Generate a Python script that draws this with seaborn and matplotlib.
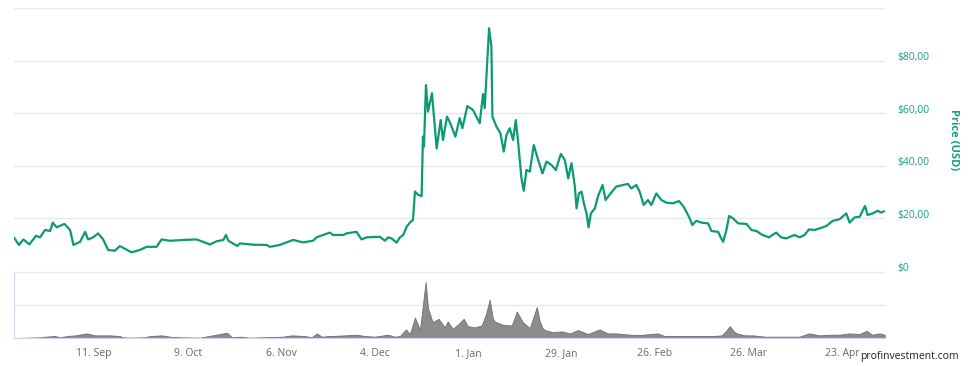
import numpy as np
import pandas as pd
import matplotlib
matplotlib.use("Agg")
import matplotlib.pyplot as plt
import matplotlib.transforms as mtransforms
import seaborn as sns

# 価格データ（開始日からの経過日数, USD）
start = pd.Timestamp("2017-08-18")
price_days = [0, 1.5, 2.8, 4.6, 6.6, 7.8, 9.3, 10.8, 11.6, 12.8, 15.1, 16.8, 17.8, 19.8, 21.3, 22.2,
              23.7, 25.2, 26.7, 28.2, 30.2, 31.7, 35.2, 37.7, 39.7, 42.7, 44.2, 46.7, 50.7, 54.7,
              58.7, 60.7, 62.7, 63.5, 64.2, 66.9, 67.7, 71.6, 75.7, 76.6, 79.6, 83.6, 86.6, 89.6,
              90.6, 94.6, 95.6, 98.6, 99.6, 102.6, 104.1, 105.6, 109.6, 111.1, 112.1, 113.1, 114.6,
              115.6, 116.6, 117.6, 118.8, 119.5, 120.1, 121.1, 122.1, 122.5, 122.8, 123.4, 124.0,
              125.2, 126.6, 127.8, 128.5, 129.7, 130.7, 132.2, 133.5, 134.3, 135.8, 137.5, 139.5,
              140.5, 141.0, 142.3, 143.0, 143.3, 144.5, 145.7, 146.7, 147.5, 148.5, 149.5, 150.3,
              151.0, 152.0, 152.7, 153.5, 154.5, 155.7, 157.0, 158.3, 159.5, 161.0, 162.3, 163.8,
              165.0, 166.0, 167.0, 168.0, 168.5, 169.2, 170.0, 170.7, 171.5, 172.1, 172.8, 174.0,
              174.9, 176.3, 177.2, 178.9, 180.4, 182.4, 183.9, 184.9, 186.4, 187.4, 188.6, 189.9,
              190.9, 192.4, 193.9, 195.4, 197.4, 199.2, 200.6, 202.2, 203.2, 204.4, 205.9, 207.9,
              208.9, 210.9, 211.6, 212.4, 213.4, 214.2, 215.4, 216.9, 219.4, 220.9, 222.4, 223.9,
              226.1, 228.3, 229.8, 231.3, 233.8, 235.3, 236.8, 238.1, 239.8, 241.3, 243.3, 245.3,
              247.3, 249.3, 250.3, 251.8, 253.3, 254.9, 255.7, 257.2, 258.7, 259.7, 260.6]
price = [12.7, 9.9, 12.0, 10.1, 13.4, 12.8, 15.6, 15.2, 18.4, 16.6, 17.9, 15.6, 9.9, 11.1, 14.9, 12.0,
         12.8, 14.3, 12.0, 8.0, 7.7, 9.5, 7.1, 8.0, 9.2, 9.2, 12.0, 11.5, 11.8, 12.0,
         10.1, 11.3, 11.8, 13.7, 11.5, 9.5, 10.5, 10.0, 9.9, 9.2, 9.9, 11.8, 10.9, 11.5,
         12.8, 14.6, 13.7, 13.7, 14.3, 14.9, 12.0, 12.8, 13.0, 11.5, 12.8, 12.4, 10.8,
         12.8, 13.7, 16.8, 18.7, 19.4, 30.2, 28.9, 28.5, 51.1, 47.3, 70.7, 60.6,
         67.6, 46.6, 57.4, 49.8, 58.7, 56.2, 51.1, 58.1, 54.3, 62.7, 61.2, 56.2,
         67.3, 61.9, 92.3, 85.3, 58.7, 54.9, 52.4, 45.4, 51.7, 54.3, 49.8, 57.4,
         49.2, 35.2, 30.5, 38.4, 37.8, 47.9, 42.2, 37.1, 41.6, 40.3, 38.4, 44.5,
         42.2, 35.2, 41.0, 32.1, 23.8, 29.5, 30.2, 25.7, 21.9, 16.6, 21.9, 23.8,
         28.3, 32.7, 27.0, 29.8, 32.1, 32.7, 33.1, 31.4, 32.7, 30.2, 25.1, 27.0,
         25.1, 29.5, 27.0, 26.0, 25.7, 26.6, 24.4, 20.6, 17.5, 19.1, 18.4, 18.1,
         15.2, 14.9, 13.0, 11.1, 15.6, 20.9, 20.0, 18.1, 17.9, 15.6, 15.2, 13.9,
         12.8, 14.6, 12.8, 12.4, 13.7, 12.8, 13.7, 15.8, 15.6, 16.2, 17.1, 19.1,
         19.7, 21.9, 18.4, 20.4, 20.6, 24.7, 21.3, 21.9, 22.9, 22.2, 22.7]

# 出来高（相対値, 0-100）
vol_days = [0, 7.8, 9.3, 12.3, 13.8, 15.9, 18.3, 21.9, 24.3, 28.7, 31.7, 32.6, 34.7, 39.2, 40.7, 44.3,
            46.7, 49.7, 55.7, 63.8, 65.3, 67.7, 70.7, 80.5, 83.2, 87.1, 89.2, 90.7, 92.2, 94.6,
            99.1, 102.7, 105.1, 108.1, 112.0, 114.1, 115.6, 117.4, 118.6, 120.1, 121.6, 123.3,
            124.0, 125.4, 127.2, 129.0, 129.9, 131.4, 132.9, 134.7, 135.9, 138.0, 140.1, 141.3,
            142.5, 143.4, 144.0, 146.4, 149.1, 150.6, 152.4, 154.5, 156.6, 157.5, 158.4, 159.6,
            161.4, 164.1, 166.5, 168.9, 171.9, 175.4, 177.8, 180.5, 184.4, 187.4, 192.8, 194.9,
            199.4, 205.4, 209.3, 212.0, 213.5, 214.4, 215.6, 216.5, 218.9, 221.3, 224.9, 229.3,
            235.3, 238.1, 241.3, 244.3, 247.3, 250.3, 253.3, 255.4, 257.0, 259.3, 260.8]
volume = [0, 1, 2, 3, 1, 3, 4, 7, 4, 4, 3, 1, 0.5, 1, 3, 4,
          2, 1, 0.5, 8, 1, 2, 0.5, 2, 4, 3, 1, 7, 2, 3,
          4, 5, 3, 2, 5, 2, 3, 13, 6, 31, 12, 85,
          45, 24, 29, 16, 25, 14, 20, 29, 18, 16, 19, 35,
          58, 30, 25, 20, 19, 40, 24, 15, 47, 25, 14, 11,
          9, 10, 7, 12, 6, 13, 7, 7, 5, 4.5, 7, 3,
          3, 3, 3, 4, 12, 18, 10, 7, 4, 4, 2, 2,
          2, 7, 4, 5, 5, 7, 6, 11, 5, 7, 5]

price_ticks = [0, 20, 40, 60, 80]
price_labels = ["$0", "$20,00", "$40,00", "$60,00", "$80,00"]
date_ticks = ["2017-09-11", "2017-10-09", "2017-11-06", "2017-12-04", "2018-01-01",
              "2018-01-29", "2018-02-26", "2018-03-26", "2018-04-23"]
date_labels = ["11. Sep", "9. Oct", "6. Nov", "4. Dec", "1. Jan",
               "29. Jan", "26. Feb", "26. Mar", "23. Apr"]

green = "#0c9b70"
label_green = "#17a083"
grid_c = "#e9e9e9"
axis_c = "#ccd6eb"

sns.set_style("white")
plt.rcParams["font.family"] = ["Open Sans", "DejaVu Sans"]

df = pd.DataFrame({"date": start + pd.to_timedelta(price_days, unit="D"), "price": price})
vdf = pd.DataFrame({"date": start + pd.to_timedelta(vol_days, unit="D"), "volume": volume})
xmin = start
xmax = start + pd.Timedelta(days=260.9)

fig = plt.figure(figsize=(9.73, 3.66), dpi=100)
ax = fig.add_axes([14 / 973, 1 - 271 / 366, 871 / 973, 263 / 366])
axv = fig.add_axes([14 / 973, 1 - 338 / 366, 871 / 973, 66 / 366])

# 価格チャート
sns.lineplot(data=df, x="date", y="price", ax=ax, color=green, linewidth=1.6)
ax.set_xlim(xmin, xmax)
ax.set_ylim(0, 100)
ax.set_yticks([0, 20, 40, 60, 80, 100])
ax.set_yticklabels(price_labels + [""])
ax.yaxis.tick_right()
ax.tick_params(axis="y", length=0, pad=9, labelsize=7.5, labelcolor=label_green)
ax.set_xticks([])
ax.set_xlabel("")
ax.set_ylabel("")
ax.grid(axis="y", color=grid_c, linewidth=1)
for s in ax.spines.values():
    s.set_visible(False)
off = mtransforms.ScaledTranslation(0, 0.045, fig.dpi_scale_trans)
for lbl in ax.get_yticklabels():
    lbl.set_transform(lbl.get_transform() + off)
fig.text(954 / 973, 1 - 140 / 366, "Price (USD)", rotation=270, ha="center", va="center",
         fontsize=8, fontweight="bold", color=label_green)

# 出来高チャート
axv.fill_between(vdf["date"], vdf["volume"], 0, color="#8c8c8c", edgecolor="#6e6e6e", linewidth=0.6)
axv.set_xlim(xmin, xmax)
axv.set_ylim(0, 100)
axv.set_yticks([50, 100])
axv.set_yticklabels([])
axv.tick_params(axis="y", length=0)
axv.grid(axis="y", color=grid_c, linewidth=1)
axv.set_xticks(pd.to_datetime(date_ticks))
axv.set_xticklabels(date_labels)
axv.tick_params(axis="x", length=4, width=1, color=axis_c, pad=3, labelsize=7.5, labelcolor="#666666")
for k in ["top", "right"]:
    axv.spines[k].set_visible(False)
axv.spines["bottom"].set_color(axis_c)
axv.spines["left"].set_color(axis_c)

fig.text(860 / 973, 1 - 357 / 366, "profinvestment.com", ha="left", va="center",
         fontsize=7.5, color="#222222")

fig.savefig("out.png", dpi=100)
